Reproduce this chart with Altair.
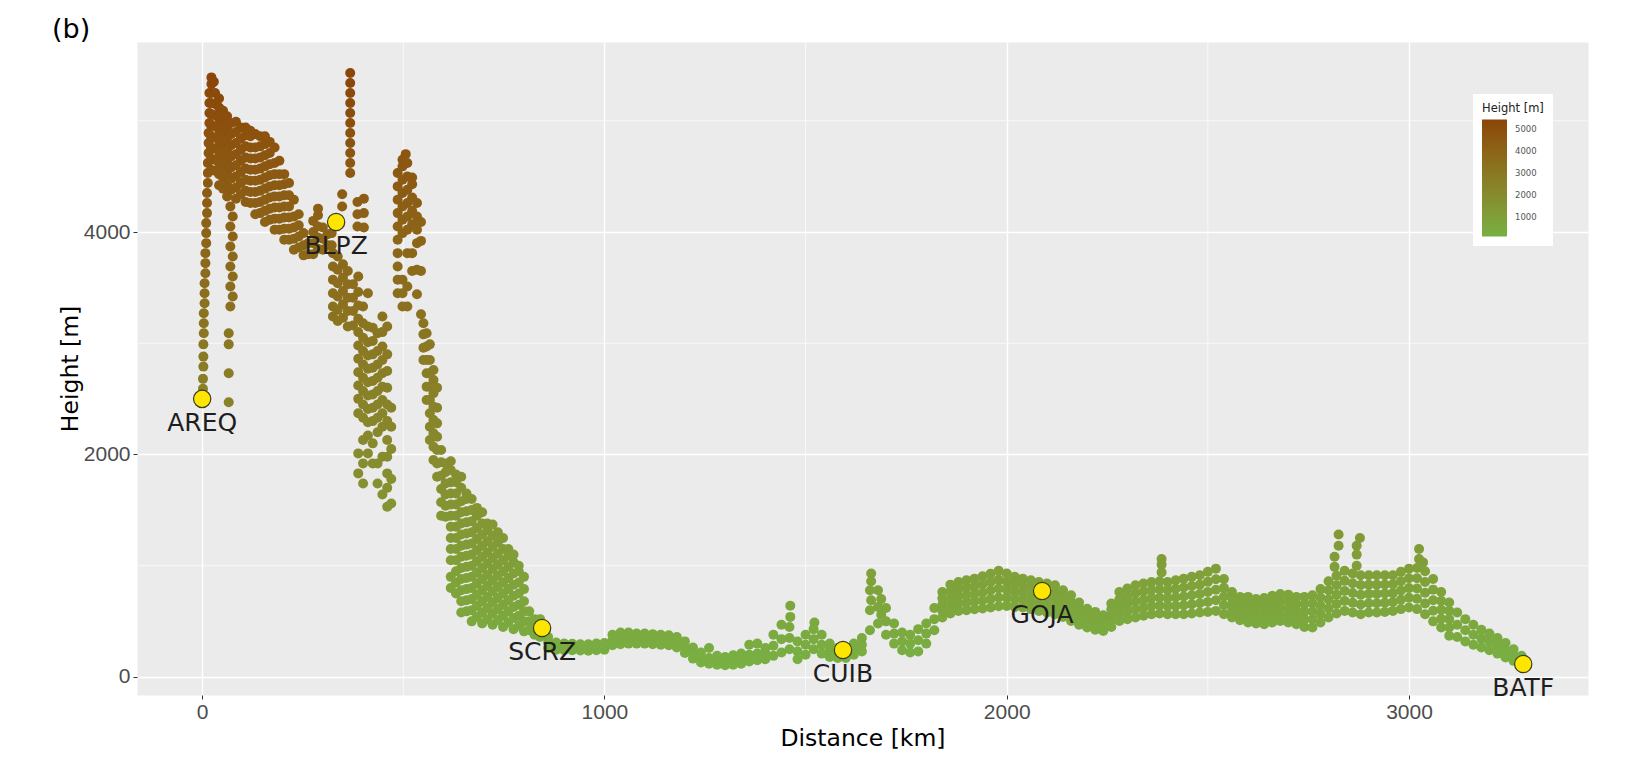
import altair as alt
import pandas as pd

# ---------------- stations ----------------
station_names = ["AREQ", "BLPZ", "SCRZ", "CUIB", "GOJA", "BATF"]
station_km = [0, 333, 845, 1593, 2088, 3284]
station_m = [2500, 4090, 440, 243, 773, 117]

# ---------------- axis breaks ----------------
x_major = [0, 1000, 2000, 3000]
x_minor = [500, 1500, 2500]
y_major = [0, 2000, 4000]
y_minor = [1000, 3000, 5000]
legend_values = [1000, 2000, 3000, 4000, 5000]

# ---------------- Andes profile (distance km, heights m read per column) ----------------
andes_columns = [
    # AREQ ascent
    (2, [2590, 2680]), (3, [2790, 2880, 2990]), (4, [3090, 3180, 3270]),
    (6, [3360, 3450, 3540]), (8, [3630, 3720, 3810]), (10, [3900, 3990, 4080]),
    (12, [4170, 4260, 4350]), (14, [4440, 4530, 4620]), (16, [4710, 4800, 4890]),
    (18, [4980, 5070, 5160, 5250]), (23, [5330, 5390]), (29, [5350]),
    # western Altiplano block
    (22, [4560, 4660, 4760, 4860, 4960, 5060, 5160, 5250]),
    (32, [4550, 4650, 4750, 4850, 4950, 5050, 5150, 5250]),
    (42, [4420, 4520, 4620, 4720, 4820, 4920, 5020, 5120, 5200]),
    (52, [4390, 4490, 4590, 4690, 4790, 4890, 4990, 5090]),
    (62, [4320, 4420, 4520, 4620, 4720, 4820, 4920, 5040]),
    (72, [4380, 4480, 4580, 4680, 4780, 4880, 4980]),
    (84, [4300, 4400, 4500, 4600, 4700, 4800, 4900, 4990]),
    (96, [4340, 4440, 4540, 4640, 4740, 4840, 4940]),
    (108, [4270, 4370, 4470, 4570, 4670, 4770, 4870, 4940]),
    (120, [4260, 4360, 4460, 4560, 4660, 4760, 4860, 4910]),
    (132, [4160, 4260, 4360, 4460, 4560, 4660, 4760, 4880]),
    (144, [4170, 4270, 4370, 4470, 4570, 4670, 4770, 4860]),
    (156, [4090, 4190, 4290, 4390, 4490, 4590, 4690, 4790, 4860]),
    (168, [4110, 4210, 4310, 4410, 4510, 4610, 4710, 4810]),
    (180, [4020, 4120, 4220, 4320, 4420, 4520, 4620, 4760]),
    (192, [4020, 4120, 4220, 4320, 4420, 4520, 4640]),
    (204, [3930, 4030, 4130, 4230, 4330, 4430, 4520]),
    (216, [3930, 4030, 4130, 4230, 4330, 4440]),
    (228, [3840, 3940, 4040, 4140, 4290]),
    (240, [3860, 3960, 4060, 4160]),
    (252, [3790, 3880, 3990]),
    (264, [3800, 3900]),
    (276, [3800, 3900, 4000, 4100]),
    (288, [3850, 3950, 4050, 4150, 4210]),
    (300, [3840, 3940, 4040]),
    (312, [3880, 3980]),
    # dotted column west of the block
    (66, [2470, 2730, 2990, 3090]),
    (70, [3330, 3510, 3690, 3870, 4050, 4230]),
    (76, [3420, 3600, 3780, 3960, 4140]),
    # around BLPZ
    (322, [3880, 3990]),
    (348, [4230, 4340]),
    (368, [4530, 4620, 4710, 4800, 4890, 4980, 5070, 5160, 5250, 5340, 5430]),
    (386, [4050, 4160, 4270]),
    (402, [4040, 4170, 4300]),
    # descent east of BLPZ
    (325, [3240, 3330, 3450, 3570, 3690, 3810]),
    (337, [3200, 3300, 3420, 3540, 3660, 3780]),
    (350, [3230, 3350, 3470, 3590, 3710]),
    (362, [3150, 3290, 3410, 3530, 3650]),
    (375, [3160, 3290, 3410, 3530]),
    (388, [1830, 2010, 2370, 2500, 2620, 2740, 2860, 2980, 3100, 3220, 3340, 3460, 3600]),
    (400, [1740, 1920, 2130, 2330, 2450, 2570, 2690, 2810, 2930, 3050, 3180, 3330]),
    (412, [2010, 2170, 2290, 2410, 2530, 2650, 2770, 2890, 3010, 3150, 3450]),
    (424, [1920, 2100, 2300, 2420, 2540, 2660, 2780, 2900, 3020, 3140]),
    (436, [1740, 1920, 2200, 2330, 2450, 2570, 2690, 2810, 2930, 3090]),
    (448, [1640, 1980, 2250, 2370, 2490, 2610, 2730, 2850, 2970, 3100, 3240]),
    (460, [1530, 1700, 1830, 1980, 2130, 2300, 2450, 2600, 2750, 2900, 3150]),
    (470, [1560, 1780, 2050, 2250, 2420]),
    # second ridge
    (486, [3450, 3570, 3690, 3810, 3930, 4050, 4170, 4290, 4410, 4530]),
    (498, [3330, 3450, 3570, 3990, 4110, 4230, 4350, 4470, 4590, 4650]),
    (506, [4700]),
    (510, [3330, 3510, 3810, 4020, 4140, 4260, 4380, 4500, 4620]),
    (522, [3650, 3810, 4070, 4190, 4310, 4430, 4490]),
    (534, [3440, 3660, 3900, 4020, 4140, 4260]),
    (544, [3260, 3650, 3920, 4090]),
    # eastern descent
    (550, [2850, 2960, 3080, 3180]),
    (558, [2490, 2610, 2730, 2850, 2970, 3090]),
    (566, [2130, 2250, 2370, 2490, 2610, 2730, 2850, 2990]),
    (575, [1950, 2070, 2190, 2310, 2430, 2550, 2670, 2760]),
    (584, [1800, 1920, 2040, 2160, 2280, 2420, 2600]),
    (594, [1450, 1570, 1690, 1810, 1930, 2040]),
    # foothills
    (605, [1440, 1540, 1640, 1740, 1840, 1920]),
    (618, [800, 900, 1050, 1150, 1250, 1350, 1450, 1550, 1650, 1750, 1860, 1940]),
    (631, [750, 850, 950, 1050, 1150, 1250, 1350, 1450, 1550, 1650, 1750, 1820]),
    (644, [580, 680, 780, 880, 980, 1080, 1180, 1280, 1380, 1480, 1580, 1700, 1800]),
    (657, [590, 690, 790, 890, 990, 1090, 1190, 1290, 1390, 1490, 1600, 1650]),
    (670, [500, 600, 700, 800, 900, 1000, 1100, 1200, 1300, 1400, 1500, 1600]),
    (683, [540, 640, 740, 840, 940, 1040, 1140, 1240, 1340, 1450, 1520]),
    (696, [480, 580, 680, 780, 880, 980, 1080, 1180, 1280, 1380, 1480]),
    (709, [520, 620, 720, 820, 920, 1020, 1120, 1220, 1320, 1380]),
    (722, [470, 570, 670, 770, 870, 970, 1070, 1170, 1270, 1370]),
    (735, [510, 610, 710, 810, 910, 1010, 1110, 1210, 1300]),
    (748, [450, 550, 650, 750, 850, 950, 1050, 1150, 1250]),
    (761, [490, 590, 690, 790, 890, 990, 1090, 1150]),
    (774, [430, 530, 630, 730, 830, 930, 1030, 1100]),
    (787, [460, 550, 650, 750, 850, 950, 1000]),
    (800, [410, 500, 590, 680, 790, 900]),
    (813, [420, 500, 590]),
    (826, [380, 450, 520]),
]

# ---------------- western lowland band, 840-1820 km (lower, centre, upper dot rows) ----------------
west_km = [840, 860, 880, 900, 920, 940, 960, 980, 1000, 1020,
           1040, 1060, 1080, 1100, 1120, 1140, 1160, 1180, 1200, 1220,
           1240, 1260, 1280, 1300, 1320, 1340, 1360, 1380, 1400, 1420,
           1440, 1460, 1480, 1500, 1520, 1540, 1560, 1580, 1600, 1620,
           1640, 1660, 1680, 1700, 1720, 1740, 1760, 1780, 1800, 1820]
west_lo = [360, 260, 245, 240, 240, 238, 235, 240, 245, 285,
           295, 300, 300, 300, 295, 290, 285, 265, 215, 165,
           130, 120, 110, 105, 110, 120, 140, 150, 160, 190,
           220, 250, 160, 200, 250, 210, 180, 170, 170, 200,
           230, 420, 480, 380, 300, 240, 220, 230, 300, 420]
west_mid = [440, 310, 275, 270, 268, 266, 265, 270, 275, 330,
            345, 350, 345, 345, 340, 335, 330, 315, 265, 215,
            175, 170, 150, 140, 150, 165, 200, 210, 210, 280,
            340, 350, 230, 290, 340, 290, 240, 215, 210, 250,
            290, 600, 630, 500, 390, 320, 300, 330, 390, 520]
west_hi = [520, 360, 310, 300, 298, 295, 295, 300, 305, 380,
           400, 400, 390, 390, 385, 380, 375, 360, 320, 265,
           220, 260, 190, 180, 195, 210, 290, 300, 260, 380,
           470, 450, 320, 380, 430, 380, 300, 260, 250, 300,
           350, 780, 780, 620, 480, 400, 380, 430, 480, 620]

# ---------------- eastern plateau band, 1840-3100 km (five dot rows, bottom to top) ----------------
east_km = [1840, 1860, 1880, 1900, 1920, 1940, 1960, 1980, 2000, 2020,
           2040, 2060, 2080, 2100, 2120, 2140, 2160, 2180, 2200, 2220,
           2240, 2260, 2280, 2300, 2320, 2340, 2360, 2380, 2400, 2420,
           2440, 2460, 2480, 2500, 2520, 2540, 2560, 2580, 2600, 2620,
           2640, 2660, 2680, 2700, 2720, 2740, 2760, 2780, 2800, 2820,
           2840, 2860, 2880, 2900, 2920, 2940, 2960, 2980, 3000, 3020,
           3040, 3060, 3080, 3100]
east_r1 = [534, 570, 594, 600, 609, 615, 624, 635, 639, 630,
           624, 610, 594, 580, 564, 540, 504, 470, 444, 425,
           414, 450, 504, 520, 534, 550, 564, 570, 564, 564,
           564, 570, 579, 585, 594, 565, 534, 510, 489, 480,
           474, 490, 504, 490, 474, 450, 444, 490, 534, 570,
           594, 580, 564, 579, 579, 585, 594, 610, 624, 610,
           564, 500, 444, 370]
east_r2 = [592, 635, 659, 668, 678, 688, 700, 715, 712, 698,
           689, 675, 659, 645, 629, 600, 562, 520, 487, 465,
           449, 503, 569, 589, 607, 623, 637, 643, 637, 641,
           644, 653, 663, 675, 689, 644, 592, 563, 547, 535,
           533, 550, 564, 553, 536, 518, 517, 565, 616, 655,
           684, 668, 652, 663, 663, 667, 674, 694, 712, 703,
           661, 595, 524, 445]
east_r3 = [649, 700, 724, 735, 746, 760, 777, 795, 785, 765,
           754, 740, 724, 710, 694, 660, 619, 570, 529, 505,
           484, 555, 634, 658, 679, 695, 709, 715, 709, 717,
           724, 735, 747, 765, 784, 723, 649, 615, 605, 590,
           592, 610, 625, 615, 597, 585, 589, 640, 697, 740,
           774, 755, 739, 747, 747, 750, 754, 778, 799, 795,
           757, 690, 604, 520]
east_r4 = [707, 765, 789, 803, 815, 833, 853, 875, 857, 833,
           819, 805, 789, 775, 759, 720, 677, 620, 572, 545,
           519, 608, 699, 726, 752, 768, 782, 788, 782, 794,
           804, 818, 830, 855, 879, 801, 707, 668, 662, 645,
           651, 670, 685, 678, 659, 653, 662, 715, 779, 825,
           864, 843, 827, 830, 830, 832, 834, 861, 887, 888,
           854, 785, 684, 595]
east_r5 = [764, 830, 854, 870, 884, 905, 929, 955, 930, 900,
           884, 870, 854, 840, 824, 780, 734, 670, 614, 585,
           554, 660, 764, 795, 824, 840, 854, 860, 854, 870,
           884, 900, 914, 945, 974, 880, 764, 720, 720, 700,
           710, 730, 745, 740, 720, 720, 734, 790, 860, 910,
           954, 930, 914, 914, 914, 914, 914, 945, 974, 980,
           950, 880, 764, 670]

# ---------------- descent to BATF, 3120-3280 km (lower, centre, upper dot rows) ----------------
tail_km = [3120, 3140, 3160, 3180, 3200, 3220, 3240, 3260, 3280]
tail_lo = [360, 320, 290, 265, 240, 210, 175, 145, 115]
tail_mid = [470, 420, 380, 345, 315, 280, 240, 195, 150]
tail_hi = [580, 520, 470, 425, 390, 350, 305, 250, 190]

# narrow spikes rising above the band
spike_columns = [
    (1462, [540, 640]), (1522, [490]), (1663, [690, 860, 930]), (1688, [560, 700]),
    (2385, [940, 1010, 1060]), (2815, [990, 1080]), (2825, [1180, 1280]),
    (2870, [1000, 1100, 1180]), (2878, [1250]), (3025, [1060, 1150]), (3035, [1030]),
]

assert len(west_km) == len(west_lo) == len(west_mid) == len(west_hi)
assert len(east_km) == len(east_r1) == len(east_r2) == len(east_r3) == len(east_r4) == len(east_r5)
assert len(tail_km) == len(tail_lo) == len(tail_mid) == len(tail_hi)

rows = []
for km, hs in andes_columns + spike_columns:
    for h in hs:
        rows.append({"km": km, "m": h})
for km, *hs in zip(west_km, west_lo, west_mid, west_hi):
    for h in hs:
        rows.append({"km": km, "m": h})
for km, *hs in zip(east_km, east_r1, east_r2, east_r3, east_r4, east_r5):
    for h in hs:
        rows.append({"km": km, "m": h})
for km, *hs in zip(tail_km, tail_lo, tail_mid, tail_hi):
    for h in hs:
        rows.append({"km": km, "m": h})
profile = pd.DataFrame(rows)

stations = pd.DataFrame({"name": station_names, "km": station_km, "m": station_m})
xminor_df = pd.DataFrame({"km": x_minor})
yminor_df = pd.DataFrame({"m": y_minor})

hmin = float(profile["m"].min())
hmax = float(profile["m"].max())

xscale = alt.Scale(domain=[-162, 3445], nice=False, zero=False)
yscale = alt.Scale(domain=[-162, 5708], nice=False, zero=False)

TITLE_FONT = "DejaVu Sans"
TICK_FONT = "Liberation Sans"

xaxis = alt.Axis(
    title="Distance [km]", values=x_major, format="d", grid=True, gridColor="white", gridWidth=1.4,
    domain=False, ticks=True, tickColor="#333333", tickSize=4, tickWidth=1,
    labelFont=TICK_FONT, labelFontSize=21, labelColor="#4D4D4D", labelPadding=2,
    labelFlush=False, titleFont=TITLE_FONT, titleFontSize=23.5, titleFontWeight="normal",
    titleColor="black", titleY=50, titleBaseline="alphabetic",
)
yaxis = alt.Axis(
    title="Height [m]", values=y_major, format="d", grid=True, gridColor="white", gridWidth=1.4,
    domain=False, ticks=True, tickColor="#333333", tickSize=4, tickWidth=1,
    labelFont=TICK_FONT, labelFontSize=21, labelColor="#4D4D4D", labelPadding=3,
    labelFlush=False, titleFont=TITLE_FONT, titleFontSize=23.5, titleFontWeight="normal",
    titleColor="black", titleX=-60, titleBaseline="alphabetic",
)

X = alt.X("km:Q", scale=xscale, axis=xaxis)
Y = alt.Y("m:Q", scale=yscale, axis=yaxis)

minor_x = alt.Chart(xminor_df).mark_rule(color="white", strokeWidth=0.7).encode(x=X)
minor_y = alt.Chart(yminor_df).mark_rule(color="white", strokeWidth=0.7).encode(y=Y)

points = alt.Chart(profile).mark_circle(size=100, opacity=1).encode(
    x=X,
    y=Y,
    color=alt.Color(
        "m:Q",
        scale=alt.Scale(domain=[hmin, hmax], range=["#78B043", "#8B4508"], interpolate="lab"),
        legend=alt.Legend(
            title="Height [m]", orient="none", legendX=1336, legendY=52,
            direction="vertical", gradientLength=117, gradientThickness=25,
            values=legend_values, format="d", titleFont=TITLE_FONT, titleFontSize=11.5,
            titleFontWeight="normal", titleColor="#222222", titlePadding=5,
            labelFont=TITLE_FONT, labelFontSize=8.5, labelColor="#555555", labelOffset=8,
            fillColor="white", padding=9, gradientStrokeWidth=0,
        ),
    ),
)

station_pts = alt.Chart(stations).mark_circle(
    size=300, color="#FFE600", stroke="#3B3B1E", strokeWidth=1.2, opacity=1
).encode(x=X, y=Y)

station_txt = alt.Chart(stations).mark_text(
    dy=24, fontSize=25, font=TITLE_FONT, color="#1E1E1E", baseline="middle", align="center"
).encode(x=X, y=Y, text="name:N")

chart = alt.layer(minor_x, minor_y, points, station_pts, station_txt).properties(
    width=1451,
    height=653,
    autosize=alt.AutoSizeParams(type="none"),
    padding={"left": 137, "top": 42, "right": 52, "bottom": 70},
    title=alt.TitleParams(
        "(b)", anchor="start", frame="group", dx=-85, dy=26, offset=3, fontSize=27,
        font=TITLE_FONT, fontWeight="normal", color="black", baseline="alphabetic",
    ),
).configure_view(fill="#EBEBEB", stroke="transparent")

chart.save("out.html", embed_options={"renderer": "svg", "actions": False})
